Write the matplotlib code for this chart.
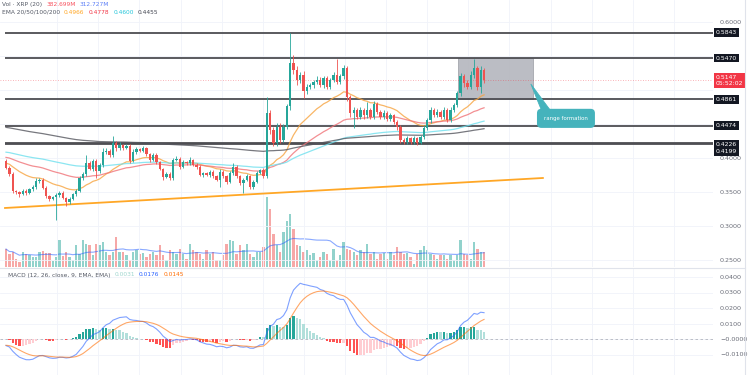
import numpy as np
import pandas as pd
import matplotlib.pyplot as plt
import matplotlib.transforms as mtransforms
from matplotlib.patches import Rectangle, Polygon
from matplotlib.lines import Line2D

# XRP 4h candles
first_open = 0.395
closes = [
    0.386, 0.377, 0.351, 0.350, 0.347, 0.352, 0.349, 0.354, 0.357, 0.366,
    0.368, 0.356, 0.344, 0.340, 0.342, 0.345, 0.349, 0.341, 0.335, 0.340,
    0.347, 0.352, 0.370, 0.377, 0.393, 0.384, 0.395, 0.381, 0.389, 0.409,
    0.411, 0.404, 0.422, 0.414, 0.419, 0.415, 0.418, 0.396, 0.409, 0.413,
    0.411, 0.414, 0.406, 0.397, 0.404, 0.394, 0.384, 0.372, 0.377, 0.370,
    0.397, 0.399, 0.387, 0.394, 0.392, 0.397, 0.390, 0.387, 0.375, 0.378,
    0.375, 0.380, 0.373, 0.368, 0.380, 0.373, 0.365, 0.378, 0.387, 0.373,
    0.363, 0.368, 0.373, 0.358, 0.365, 0.378, 0.382, 0.373, 0.466, 0.441,
    0.422, 0.446, 0.427, 0.446, 0.476, 0.539, 0.530, 0.515, 0.522, 0.498,
    0.505, 0.507, 0.512, 0.515, 0.507, 0.517, 0.505, 0.515, 0.522, 0.512,
    0.520, 0.532, 0.490, 0.466, 0.471, 0.461, 0.471, 0.463, 0.471, 0.461,
    0.480, 0.468, 0.461, 0.466, 0.458, 0.463, 0.453, 0.446, 0.4265, 0.424,
    0.429, 0.424, 0.429, 0.422, 0.431, 0.444, 0.456, 0.471, 0.463, 0.468,
    0.461, 0.471, 0.456, 0.471, 0.478, 0.495, 0.520, 0.510, 0.505, 0.522,
    0.532, 0.505, 0.529, 0.5147,
]
# wick lengths beyond the body, in 0.001
wick_up = [
    3, 2, 3, 2, 2, 3, 2, 2, 3, 4, 2, 2, 3, 2, 2, 3, 2, 3, 2, 3,
    2, 2, 3, 2, 12, 3, 4, 3, 3, 5, 3, 2, 10, 3, 4, 2, 3, 2, 4, 3,
    2, 3, 2, 2, 4, 3, 2, 2, 3, 2, 3, 4, 2, 3, 2, 5, 2, 2, 3, 2,
    2, 3, 2, 2, 4, 2, 2, 3, 5, 2, 2, 3, 4, 2, 3, 3, 2, 3, 24, 5,
    4, 6, 5, 4, 4, 45, 12, 6, 5, 6, 4, 3, 3, 5, 4, 3, 4, 3, 4, 23,
    3, 5, 4, 3, 4, 3, 4, 3, 12, 3, 4, 3, 3, 4, 3, 3, 2, 3, 3, 3,
    3, 2, 3, 2, 3, 4, 3, 4, 3, 4, 3, 4, 3, 4, 3, 4, 5, 3, 4, 6,
    14, 4, 6, 3,
]
wick_dn = [
    2, 3, 3, 3, 4, 2, 3, 2, 2, 2, 3, 2, 3, 3, 2, 33, 3, 2, 5, 2,
    2, 3, 2, 2, 3, 2, 3, 11, 3, 2, 3, 2, 2, 3, 2, 3, 2, 4, 2, 3,
    2, 2, 3, 3, 2, 3, 2, 4, 2, 3, 2, 2, 3, 2, 3, 2, 2, 3, 2, 3,
    2, 3, 3, 2, 10, 3, 3, 2, 3, 3, 3, 15, 2, 3, 3, 2, 2, 3, 2, 5,
    5, 4, 5, 4, 3, 5, 6, 8, 5, 10, 4, 3, 4, 3, 3, 4, 4, 3, 3, 3,
    3, 4, 6, 5, 22, 4, 3, 5, 4, 3, 4, 3, 4, 3, 4, 3, 3, 5, 4, 3,
    3, 4, 3, 3, 2, 3, 3, 4, 3, 3, 4, 3, 3, 3, 4, 3, 4, 6, 4, 3,
    4, 5, 10, 5,
]
# volume in millions
volumes = [
    459, 332, 383, 204, 128, 383, 332, 306, 255, 255,
    383, 408, 357, 357, 153, 255, 689, 281, 383, 255,
    179, 561, 332, 689, 587, 561, 306, 587, 561, 638,
    383, 306, 383, 765, 383, 383, 306, 179, 383, 434,
    332, 357, 255, 332, 383, 306, 561, 306, 179, 434,
    383, 332, 459, 332, 204, 587, 434, 383, 332, 204,
    434, 332, 383, 179, 179, 306, 587, 689, 663, 332,
    561, 434, 587, 332, 255, 383, 383, 510, 1785, 1479,
    842, 561, 383, 893, 1173, 1352, 969, 561, 536, 383,
    434, 306, 357, 179, 255, 383, 332, 179, 459, 179,
    306, 638, 459, 434, 383, 306, 434, 383, 587, 332,
    383, 204, 332, 357, 204, 383, 306, 510, 383, 332,
    357, 255, 77, 332, 434, 536, 434, 332, 306, 204,
    306, 306, 204, 306, 179, 306, 689, 332, 306, 204,
    638, 459, 383, 383,
]

levels = [0.5843, 0.5470, 0.4861, 0.4474, 0.4226, 0.4199]
level_labels = ["0.5843", "0.5470", "0.4861", "0.4474", "0.4226", "0.4199"]
label_shift_px = [0, 0, 0, 0, 1.5, 7.5]   # stacked tag boxes on the axis
price_ticks = [0.60, 0.40, 0.35, 0.30, 0.25]
ema_periods = [20, 50, 100, 200]
ema_seeds = [0.393, 0.4015, 0.409, 0.4456]
ema_colors = ["#f7a440", "#f07378", "#6fe0ee", "#55565e"]
macd_seeds = (0.393, 0.397, -0.004)   # ema12, ema26, signal at the left edge
macd_ticks = [0.04, 0.03, 0.02, 0.01, 0.0, -0.01]
macd_labels = ["0.0400", "0.0300", "0.0200", "0.0100", "\u22120.0000", "\u22120.0100"]
trend_x, trend_y = [-0.3, 160.6], [0.3265, 0.3706]
range_x, range_y = [135.3, 157.5], [0.4861, 0.5470]
last_price, countdown = 0.5147, "05:52:02"

closes = np.array(closes)
opens = np.r_[first_open, closes[:-1]]
highs = np.maximum(opens, closes) + np.array(wick_up) / 1000
lows = np.minimum(opens, closes) - np.array(wick_dn) / 1000
n = len(closes)
x = np.arange(n)
up = closes >= opens


def ema(values, period, seed):
    a = 2 / (period + 1)
    out, e = [], seed
    for v in values:
        e = e + a * (v - e)
        out.append(e)
    return np.array(out)


GREEN, RED = "#26a69a", "#ef5350"
W, H = 750, 375
PX = 680  # price pane pixels per unit
xlim = (-6 / 3.343, (713 - 6) / 3.343)

fig = plt.figure(figsize=(7.5, 3.75), dpi=100)
fig.patch.set_facecolor("white")
axv = fig.add_axes([0, (H - 267) / H, 713 / W, 77 / H])
ax = fig.add_axes([0, (H - 267) / H, 713 / W, 267 / H])
axm = fig.add_axes([0, 0, 713 / W, 106 / H])
ax.patch.set_alpha(0)

# ---- price pane
ax.set_xlim(*xlim)
ax.set_ylim(0.6 - 245 / PX, 0.6 + 22 / PX)
for g in np.arange(0.25, 0.65, 0.05):
    ax.axhline(g, color="#f0f3fa", lw=0.6, zorder=0)
for a_ in (ax, axm):
    for g in np.arange(15.3, xlim[1], 12.3):
        a_.axvline(g, color="#f0f3fa", lw=0.6, zorder=0)

ax.add_patch(Rectangle((range_x[0], range_y[0]), range_x[1] - range_x[0],
                       range_y[1] - range_y[0], fc="#b0b2ba", ec="#9a9ca4",
                       lw=0.6, alpha=0.85, zorder=1))
for lv in levels:
    ax.hlines(lv, -0.3, xlim[1], color="#4d4d52", lw=1.3, zorder=2)
ax.plot(trend_x, trend_y, color="#ffa726", lw=1.3, zorder=2)

for p, s, c in zip(ema_periods, ema_seeds, ema_colors):
    ax.plot(x, ema(closes, p, s), color=c, lw=0.9, alpha=0.8, zorder=3)

col = np.where(up, GREEN, RED)
ax.vlines(x, lows, highs, color=col, lw=0.6, zorder=4)
ax.bar(x, np.maximum(np.abs(closes - opens), 0.0008), bottom=np.minimum(opens, closes),
       width=0.7, color=col, zorder=5)

ax.axhline(last_price, color="#f23645", lw=0.6, ls=(0, (1, 2)), alpha=0.5, zorder=2)

# trend callout
teal = "#45b3bc"
ax.add_patch(Polygon([[157.0, 0.5088], [160.6, 0.4650], [163.6, 0.4650]],
                     closed=True, fc=teal, ec=teal, lw=0.6, zorder=6))
ax.text(167.5, 0.4583, "range formation", fontsize=3.9, color="white",
        ha="center", va="center", zorder=7,
        bbox=dict(boxstyle="round,pad=1.3,rounding_size=0.8", fc=teal, ec="none"))

ax.yaxis.tick_right()
ax.set_yticks(price_ticks)
ax.set_yticklabels([f"{t:.4f}" for t in price_ticks])
ax.tick_params(axis="y", length=0, pad=5, labelsize=4.6, labelcolor="#6a6d78")
ax.set_xticks([])
for s in ax.spines.values():
    s.set_visible(False)

tr = mtransforms.blended_transform_factory(ax.transAxes, ax.transData)
for lv, lab, sh in zip(levels, level_labels, label_shift_px):
    ax.text(1 + 3 / 713, lv - sh / PX, lab, transform=tr, fontsize=4.4, color="white",
            ha="left", va="center", zorder=8, clip_on=False,
            bbox=dict(boxstyle="square,pad=0.3", fc="#131722", ec="none"))
ax.text(1 + 3 / 713, 0.6 - 53 / PX, f"{last_price:.4f}\n{countdown}", transform=tr,
        fontsize=4.4, color="white", ha="left", va="top", linespacing=1.25,
        zorder=8, clip_on=False,
        bbox=dict(boxstyle="square,pad=0.3", fc="#f23645", ec="none"))

# ---- volume overlay
axv.set_xlim(*xlim)
axv.set_ylim(0, 77 * 25.5)
axv.bar(x, volumes, width=0.7, color=col, alpha=0.5)
vol_ma = pd.Series(volumes).rolling(20, min_periods=1).mean()
axv.plot(x, vol_ma, color="#2962ff", lw=0.8, alpha=0.55)
axv.axis("off")

# ---- MACD pane
e12 = ema(closes, 12, macd_seeds[0])
e26 = ema(closes, 26, macd_seeds[1])
macd = e12 - e26
signal = ema(macd, 9, macd_seeds[2])
hist = macd - signal
prev = np.r_[hist[0], hist[:-1]]
hcol = np.where(hist >= 0, np.where(hist >= prev, "#26a69a", "#b2dfdb"),
                np.where(hist <= prev, "#ff5252", "#ffcdd2"))
axm.set_xlim(*xlim)
axm.set_ylim(-36 / 1550, 70 / 1550)
for g in macd_ticks:
    axm.axhline(g, color="#f0f3fa", lw=0.6, zorder=0)
axm.axhline(0, color="#b2b5be", lw=0.6, ls=(0, (3, 3)), zorder=1)
axm.bar(x, hist, width=0.7, color=hcol, zorder=2)
axm.plot(x, macd, color="#2962ff", lw=0.8, alpha=0.6, zorder=3)
axm.plot(x, signal, color="#ff6d00", lw=0.8, alpha=0.6, zorder=3)
axm.yaxis.tick_right()
axm.set_yticks(macd_ticks)
axm.set_yticklabels(macd_labels)
axm.tick_params(axis="y", length=0, pad=5, labelsize=4.6, labelcolor="#6a6d78")
axm.set_xticks([])
for s in axm.spines.values():
    s.set_visible(False)

# pane separators
fig.add_artist(Line2D([0, 745 / W], [1 - 267.5 / H] * 2, color="#e0e3eb", lw=0.8))
fig.add_artist(Line2D([745 / W] * 2, [0, 1], color="#e0e3eb", lw=0.8))

renderer = fig.canvas.get_renderer()


def legend(y_px, parts, x_px=2):
    # pieces laid out one after another, like the pane header
    for txt, c in parts:
        t = fig.text(x_px / W, 1 - y_px / H, txt, fontsize=4.2, color=c, va="center")
        x_px += t.get_window_extent(renderer).width + 4


legend(4.5, [("Vol \u00b7 XRP (20)", "#555a66"), ("382.699M", "#f7525f"),
             ("312.727M", "#5b7ff7")])
legend(12.5, [("EMA 20/50/100/200", "#555a66"), ("0.4966", "#ffa726"),
              ("0.4778", "#f23645"), ("0.4600", "#26c6da"), ("0.4455", "#434651")])
legend(275, [("MACD (12, 26, close, 9, EMA, EMA)", "#555a66"), ("0.0031", "#9fd6cf"),
             ("0.0176", "#2962ff"), ("0.0145", "#ff6d00")], x_px=8)

fig.savefig("out.png", dpi=100)
